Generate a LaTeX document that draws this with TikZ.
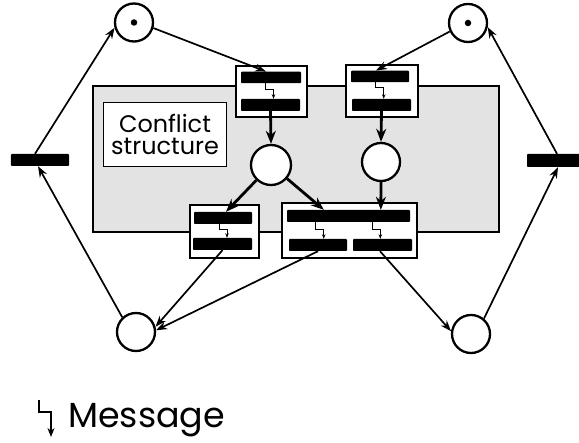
\documentclass[tikz,border=0pt]{standalone}
\usepackage{fontspec}
\setmainfont{Poppins}
\usetikzlibrary{arrows.meta,calc}
\begin{document}
\begin{tikzpicture}[x=1bp,y=-1bp,
  place/.style={circle,draw,line width=2.3bp,minimum size=38bp,inner sep=0pt,fill=white},
  token/.style={circle,fill,inner sep=0pt,minimum size=6.5bp},
  bar/.style={fill=black,draw=none,inner sep=0pt,rounded corners=0.8bp},
  tbox/.style={draw,line width=1.9bp,fill=white,inner sep=0pt},
  arc/.style={line width=1.7bp,-{Stealth[length=11bp,width=8bp]}},
  thickarc/.style={line width=2.8bp,-{Stealth[length=13bp,width=10bp]}},
  msg/.style={line width=0.8bp,-{Stealth[length=4.5bp,width=3.5bp]}},
  legendmsg/.style={line width=1.7bp,-{Stealth[length=9bp,width=7bp]}},
  label/.style={inner sep=0pt}]
\useasboundingbox (0,0) rectangle (579,443);
\clip (0,0) rectangle (579,443);

% shaded conflict region and its caption
\node[draw,line width=1.3bp,fill=black!11,minimum width=406bp,minimum height=146bp,inner sep=0pt] (region) at (296,159) {};
\node[draw,line width=1.6bp,fill=white,minimum width=123bp,minimum height=64bp,align=center,inner sep=0pt,
      font=\fontsize{24}{23}\selectfont] (cs) at (165,134.5) {Conflict\\structure};

% composite transitions
\node[tbox,minimum width=71bp,minimum height=51bp] (TA) at (271.5,91.5) {};
\node[bar,minimum width=60bp,minimum height=11.5bp] (a1) at (271,77.5) {};
\node[bar,minimum width=59bp,minimum height=12bp] (a2) at (270.5,105) {};

\node[tbox,minimum width=71.5bp,minimum height=52bp] (TB) at (382,91) {};
\node[bar,minimum width=58bp,minimum height=11.5bp] (b1) at (380,76.5) {};
\node[bar,minimum width=59bp,minimum height=12bp] (b2) at (381.5,105) {};

\node[tbox,minimum width=69bp,minimum height=53bp] (TC) at (224.5,231.5) {};
\node[bar,minimum width=58bp,minimum height=12bp] (c1) at (223,218) {};
\node[bar,minimum width=59bp,minimum height=12bp] (c2) at (222.5,244) {};

\node[tbox,minimum width=135bp,minimum height=55bp] (TD) at (349.5,230.5) {};
\node[bar,minimum width=123bp,minimum height=12bp] (d1) at (348.5,216) {};
\node[bar,minimum width=58bp,minimum height=12bp] (d2) at (318,245) {};
\node[bar,minimum width=59bp,minimum height=12bp] (d3) at (382.5,245) {};

% outer transitions
\node[bar,minimum width=58bp,minimum height=12bp] (L) at (40,160) {};
\node[bar,minimum width=58bp,minimum height=13bp] (R) at (556,160.5) {};

% places
\node[place] (p1) at (134,22.5) {};
\node[token] (k1) at (p1) {};
\node[place] (p2) at (468,23) {};
\node[token] (k2) at (p2) {};
\node[place,minimum size=40bp] (p3) at (271,165) {};
\node[place] (p4) at (381,162) {};
\node[place] (p5) at (136,332) {};
\node[place] (p6) at (471,334) {};

% messages inside the composite transitions
\draw[msg] ($(a1.south)+(-6,0)$) -- ++(0,6) -| ($(a2.north)+(3,0)$);
\draw[msg] ($(b1.south)+(-4.7,0)$) -- ++(0,5) -| ($(b2.north)+(2.2,0)$);
\draw[msg] ($(c1.south)+(-4,0)$) -- ++(0,5.5) -| ($(c2.north)+(4.5,0)$);
\draw[msg] ($(d1.south west)+(28.3,0)$) -- ++(0,7) -| ($(d2.north)+(5.7,0)$);
\draw[msg] ($(d1.south west)+(85.3,0)$) -- ++(0,7) -| ($(d3.north)+(-2.2,0)$);

% thin arcs
\draw[arc] ($(L.north)+(-5,0)$) -- (p1.195);
\draw[arc] (p5.133) -- ($(L.south)+(-2,0)$);
\draw[arc] ($(R.north)+(1,0)$) -- (p2.-12);
\draw[arc] (p6.50) -- ($(R.south)+(2,0)$);
\draw[arc] (p1.-16) -- ($(a1.north)+(-5,0)$);
\draw[arc] (p2.205) -- ($(b1.north)+(-4,0)$);
\draw[arc] (c2.south) -- (p5.15);
\draw[arc] (d2.south) -- (p5.5);
\draw[arc] ($(d3.south)+(-2.5,0)$) -- (p6.172);

% thick arcs inside the conflict region
\draw[thickarc] (a2.south) -- (p3.north);
\draw[thickarc] (b2.south) -- (p4.north);
\draw[thickarc] (p3) -- ($(c1.north)+(3,0)$);
\draw[thickarc] (p3) -- ($(d1.north west)+(37,0)$);
\draw[thickarc] (p4.south) -- ($(d1.north west)+(94,0)$);

% legend
\coordinate (lg) at (39,400);
\draw[legendmsg] (lg) -- ++(0,12) -- ++(12,0) -- ++(0,25);
\node[anchor=base west,label,font=\fontsize{35}{38}\selectfont] (msgtxt) at (68,427) {Message};
\end{tikzpicture}
\end{document}
